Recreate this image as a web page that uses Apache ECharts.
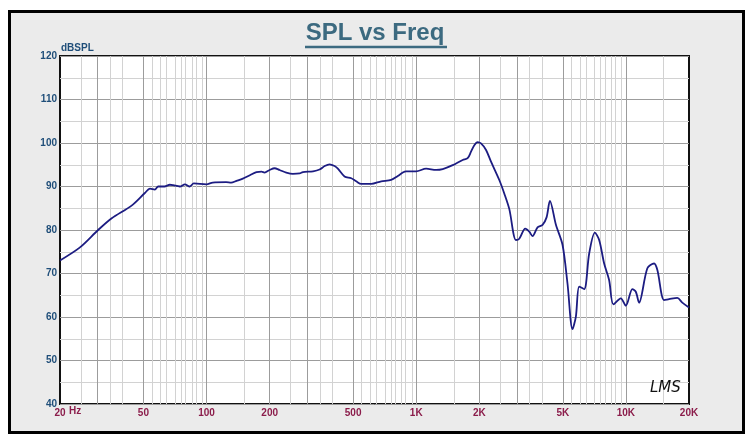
<!DOCTYPE html>
<html>
<head>
<meta charset="utf-8">
<script src="https://cdn.jsdelivr.net/npm/echarts@6/dist/echarts.min.js"></script>
<style>
html,body{margin:0;padding:0;background:#fff;}
#chart{width:750px;height:444px;}
</style>
</head>
<body>
<div id="chart"></div>
<script>
// ---- data ----
const freqHz = [20, 24.9, 30.4, 35.3, 43.9, 50.8, 53.7, 56.7, 58.8, 63, 66.8, 69.3, 74.6, 78.8, 83.2, 86.9, 99.9,
  107, 124, 131, 139, 149, 161, 173, 183, 189, 200, 211, 223, 240, 258, 278, 288, 322, 346, 366, 386, 408, 423, 455, 490, 517, 547,
  610, 681, 759, 817, 863, 895, 999, 1115, 1244, 1338, 1493, 1666, 1759, 1826, 1893, 1963, 2037, 2153, 2274, 2490, 2630, 2780,
  2990, 3102, 3311, 3460, 3588, 3790, 4004, 4185, 4342, 4638, 4986, 5266, 5564, 5774, 5989, 6325, 6683, 7112, 7457, 7877, 8318,
  8721, 9458, 9991, 10740, 11150, 11560, 12660, 13630, 14130, 15210, 16060, 17590, 18580, 20000];
const splDb = [73.0, 76.0, 80.0, 82.7, 85.6, 88.5, 89.5, 89.3, 90.0, 90.0, 90.4, 90.3, 90.0, 90.5, 90.0, 90.7, 90.5,
  90.9, 91.0, 90.9, 91.3, 91.8, 92.6, 93.3, 93.4, 93.2, 93.8, 94.2, 93.8, 93.2, 92.9, 93.0, 93.3, 93.5, 93.9, 94.7, 95.1, 94.7, 94.1, 92.3, 91.9, 91.2, 90.6,
  90.6, 91.2, 91.5, 92.4, 93.2, 93.5, 93.5, 94.1, 93.8, 94.0, 94.9, 96.1, 96.5, 98.0, 99.5, 100.2, 99.9, 98.4, 95.7, 91.5, 88.4, 84.8,
  77.7, 78.0, 80.3, 79.6, 78.6, 80.6, 81.2, 82.9, 86.7, 81.2, 76.6, 67.7, 57.2, 60.1, 67.0, 66.4, 74.6, 79.4, 77.7, 72.3, 68.5,
  62.9, 64.3, 62.6, 66.4, 65.8, 63.3, 71.2, 72.3, 70.8, 63.9, 64.1, 64.4, 63.3, 62.2];

const xTickValues = [20, 50, 100, 200, 500, 1000, 2000, 5000, 10000, 20000];
const xTickLabels = ['20', '50', '100', '200', '500', '1K', '2K', '5K', '10K', '20K'];
const majorGridHz = [30, 50, 100, 200, 300, 500, 1000, 2000, 3000, 5000, 10000];
const minorGridHz = [25, 35, 40, 55, 60, 65, 70, 75, 80, 85, 90, 95, 150, 250, 350, 400, 550, 600, 650, 700, 750, 800, 850, 900, 950,
  1500, 2500, 3500, 4000, 5500, 6000, 6500, 7000, 7500, 8000, 8500, 9000, 9500, 15000];
const yMin = 40, yMax = 120, yStep = 10;

// ---- build ----
const L = Math.log10;
const seriesData = freqHz.map((f, i) => [L(f), splDb[i]]);
const labelMap = {};
xTickValues.forEach((v, i) => { labelMap[L(v).toFixed(5)] = xTickLabels[i]; });

const narrow = "'Liberation Sans Narrow', 'Liberation Sans', Arial, sans-serif";

const chart = echarts.init(document.getElementById('chart'), null, {renderer: 'canvas'});
chart.setOption({
  animation: false,
  backgroundColor: '#ffffff',
  graphic: [
    {type: 'rect', z: -10, shape: {x: 9.5, y: 11.5, width: 734, height: 421}, style: {fill: '#ebebeb', stroke: '#000', lineWidth: 3}},
    {type: 'text', left: 'center', top: 21, style: {text: 'SPL vs Freq', fill: '#3c6a80', font: "bold 24px 'Liberation Sans', Arial, sans-serif"}},
    {type: 'line', shape: {x1: 305, y1: 47, x2: 447, y2: 47}, style: {stroke: '#3c6a80', lineWidth: 2.5}},
    {type: 'text', left: 61, top: 43, style: {text: 'dBSPL', fill: '#1f4e79', font: "bold 10px " + narrow}},
    {type: 'text', left: 69, top: 406, style: {text: 'Hz', fill: '#8b1d4b', font: "bold 10px " + narrow}},
    {type: 'text', left: 650, top: 381, z: 50, style: {text: 'LMS', fill: '#111', font: "italic 15px 'DejaVu Sans', sans-serif"}}
  ],
  grid: {left: 60, right: 61, top: 56, bottom: 40, show: true, backgroundColor: '#ffffff', borderColor: '#111', borderWidth: 2},
  xAxis: {
    type: 'value', min: L(20), max: L(20000),
    axisLine: {show: false}, axisTick: {show: false}, splitLine: {show: false},
    axisLabel: {
      customValues: xTickValues.map(L),
      formatter: v => labelMap[v.toFixed(5)] || '',
      color: '#8b1d4b', fontWeight: 'bold', fontSize: 10, fontFamily: narrow, margin: 4
    }
  },
  yAxis: {
    type: 'value', min: yMin, max: yMax, interval: yStep,
    axisLine: {show: false}, axisTick: {show: false},
    axisLabel: {color: '#1f4e79', fontWeight: 'bold', fontSize: 10, fontFamily: narrow, margin: 3},
    splitLine: {show: true, lineStyle: {color: '#9c9c9c', width: 1}},
    minorTick: {show: false, splitNumber: 2},
    minorSplitLine: {show: true, lineStyle: {color: '#d2d2d2', width: 1}}
  },
  series: [
    {
      type: 'line', data: [], z: 1, silent: true,
      markLine: {
        silent: true, symbol: ['none', 'none'], label: {show: false}, animation: false,
        lineStyle: {color: '#d2d2d2', width: 1, type: 'solid'},
        data: minorGridHz.map(f => ({xAxis: L(f)}))
      }
    },
    {
      type: 'line', data: [], z: 2, silent: true,
      markLine: {
        silent: true, symbol: ['none', 'none'], label: {show: false}, animation: false,
        lineStyle: {color: '#9c9c9c', width: 1, type: 'solid'},
        data: majorGridHz.map(f => ({xAxis: L(f)}))
      }
    },
    {
      type: 'line', data: seriesData, z: 5, showSymbol: false, smooth: 0.3,
      lineStyle: {color: '#1c1c82', width: 1.8}
    }
  ]
});
</script>
</body>
</html>
